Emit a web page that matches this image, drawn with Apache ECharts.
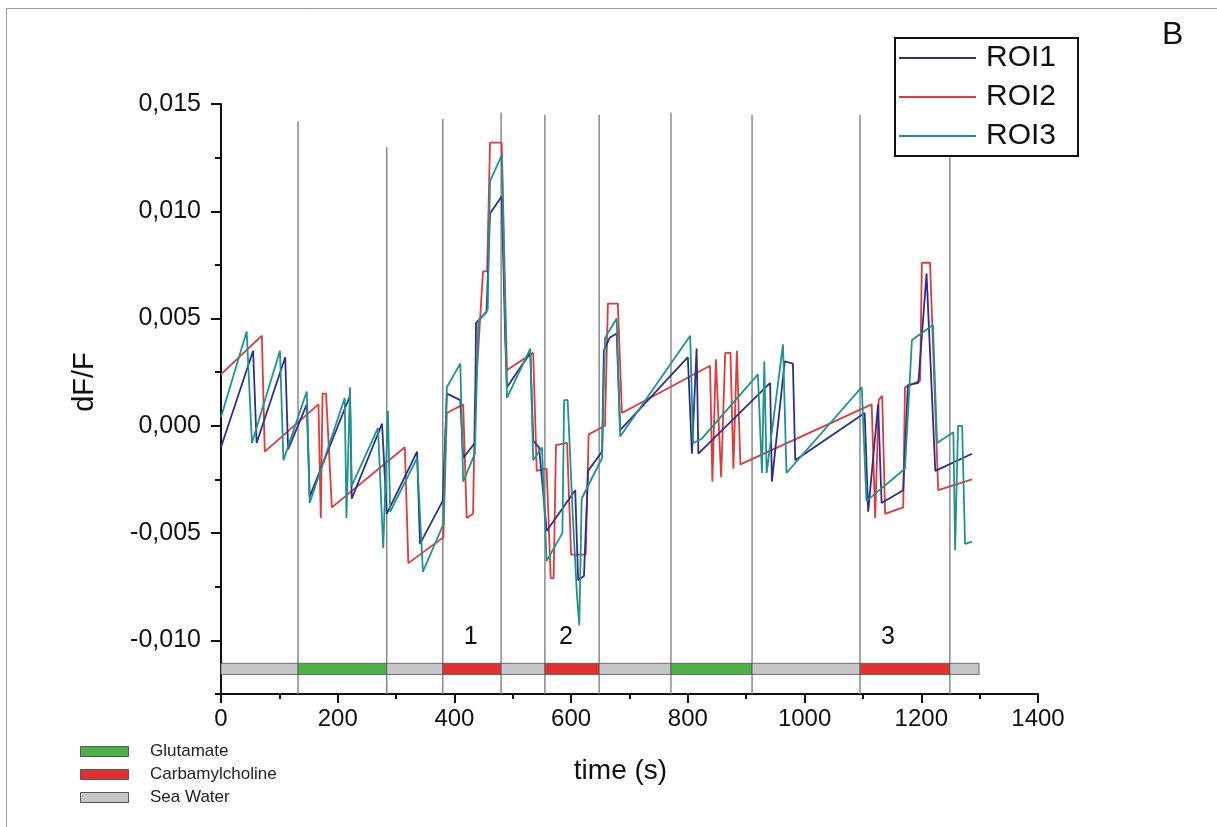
<!DOCTYPE html>
<html><head><meta charset="utf-8">
<script src="https://cdn.jsdelivr.net/npm/echarts@6/dist/echarts.min.js"></script>
<style>html,body{margin:0;padding:0;background:#fff}#c{width:1217px;height:827px}</style>
</head><body><div id="c"></div>
<script>
// ---- data ----
const roi1T = [0,55,61,110,115,147,152,221,224,276,284,336,341,380,387,410,415,435,437,455,461,481,487,490,530,535,545,558,607,612,622,629,653,656,666,678,684,800,807,815,818,941,944,966,980,984,1103,1109,1126,1132,1169,1177,1195,1209,1224,1287];
const roi1V = [-0.0010,0.0035,-0.0008,0.0032,-0.0011,0.0010,-0.0033,0.0014,-0.0034,0.0001,-0.0041,-0.0012,-0.0055,-0.0035,0.0015,0.0012,-0.0015,-0.0008,0.0048,0.0053,0.0099,0.0107,0.0041,0.0018,0.0034,-0.0007,-0.0010,-0.0049,-0.0030,-0.0072,-0.0070,-0.0021,-0.0012,0.0035,0.0041,0.0043,-0.0002,0.0032,-0.0013,0.0036,-0.0013,0.0020,-0.0026,0.0030,0.0029,-0.0016,0.0006,-0.0040,0.0010,-0.0036,-0.0030,0.0019,0.0020,0.0071,-0.0021,-0.0013];
const roi2T = [0,70,75,167,171,174,180,190,315,321,381,387,415,421,432,435,449,456,461,481,490,535,541,558,565,570,574,593,600,625,630,658,663,680,687,838,842,848,857,864,873,878,884,890,1115,1121,1127,1133,1138,1169,1172,1198,1201,1215,1229,1287];
const roi2V = [0.0024,0.0042,-0.0012,0.0010,-0.0043,0.0015,0.0015,-0.0038,-0.0010,-0.0064,-0.0052,0.0006,0.0010,-0.0043,-0.0041,0.0010,0.0072,0.0072,0.0132,0.0132,0.0026,0.0034,-0.0021,-0.0020,-0.0071,-0.0071,-0.0009,-0.0008,-0.0060,-0.0060,-0.0004,0.0000,0.0057,0.0057,0.0006,0.0028,-0.0026,0.0031,-0.0024,0.0034,0.0034,-0.0020,0.0035,-0.0018,0.0010,-0.0043,0.0012,0.0014,-0.0041,-0.0038,0.0018,0.0021,0.0076,0.0076,-0.0030,-0.0025];
const roi3T = [0,44,53,101,107,147,152,212,215,221,224,269,278,286,290,336,346,381,387,410,415,435,441,457,461,481,490,530,535,550,558,585,588,594,603,610,614,618,653,658,678,684,804,809,824,920,927,931,935,963,969,1098,1106,1172,1184,1220,1227,1255,1258,1263,1270,1275,1287];
const roi3V = [0.0004,0.0044,-0.0008,0.0035,-0.0016,0.0016,-0.0036,0.0013,-0.0043,0.0018,-0.0028,-0.0001,-0.0057,0.0007,-0.0040,-0.0015,-0.0068,-0.0046,0.0018,0.0029,-0.0026,-0.0013,0.0049,0.0054,0.0114,0.0126,0.0013,0.0036,-0.0016,-0.0010,-0.0063,-0.0050,0.0012,0.0012,-0.0043,-0.0079,-0.0093,-0.0034,-0.0015,0.0041,0.0050,-0.0005,0.0042,-0.0008,-0.0006,0.0024,-0.0022,0.0030,-0.0022,0.0038,-0.0022,0.0018,-0.0035,-0.0020,0.0040,0.0047,-0.0008,-0.0003,-0.0058,0.0000,0.0000,-0.0055,-0.0054];

const stimStart = [0,132,284,380,480,555,648,771,910,1095,1249];
const stimEnd   = [132,284,380,480,555,648,771,910,1095,1249,1299];
const stimType  = ['Sea Water','Glutamate','Sea Water','Carbamylcholine','Sea Water','Carbamylcholine','Sea Water','Glutamate','Sea Water','Carbamylcholine','Sea Water'];
const boundaryT   = [132,284,380,480,555,648,771,910,1095,1249];
const boundaryTop = [0.0142,0.0130,0.0143,0.0146,0.0145,0.0145,0.0146,0.0145,0.0145,0.0126];
const stimLabelT = [428,591,1143];
const stimLabelText = ['1','2','3'];
const drugNames = ['Glutamate','Carbamylcholine','Sea Water'];

const xTicks = [0,200,400,600,800,1000,1200,1400];
const yTicks = [-0.010,-0.005,0.000,0.005,0.010,0.015];
const yMinorTicks = [-0.0125,-0.0075,-0.0025,0.0025,0.0075,0.0125];

// ---- styles ----
const FONT = 'Liberation Sans, Arial, Helvetica, sans-serif';
const drugColor = {'Glutamate':'#4cb246','Carbamylcholine':'#e0312f','Sea Water':'#c5c6ca'};
const Y_MIN = -0.0125, Y_MAX = 0.015;
const BAR_TOP = -0.01107, BAR_BOT = -0.01159;
const LABEL_Y = -0.00986;

const pairs = (t, v) => t.map((x, i) => [x, v[i]]);

const chart = echarts.init(document.getElementById('c'), null, {renderer:'canvas'});

const option = {
  animation: false,
  backgroundColor: '#fff',
  textStyle: {fontFamily: FONT},
  grid: {left: 221, right: 179, top: 104, bottom: 133},
  legend: {
    orient: 'vertical', left: 895, top: 38,
    data: ['ROI1','ROI2','ROI3'],
    icon: 'rect', itemWidth: 77, itemHeight: 2, itemGap: 9,
    padding: [5, 22, 5, 4],
    borderColor: '#111', borderWidth: 2,
    textStyle: {fontSize: 30, color: '#111', fontFamily: FONT, padding: [0, 0, 0, 5]}
  },
  xAxis: {
    type: 'value', min: 0, max: 1400, interval: 200,
    axisLine: {show: true, onZero: false, lineStyle: {color: '#111', width: 2}},
    axisTick: {show: true, length: 9, lineStyle: {color: '#111', width: 2}},
    minorTick: {show: true, splitNumber: 2, length: 5, lineStyle: {color: '#111', width: 2}},
    splitLine: {show: false},
    axisLabel: {fontSize: 24, color: '#111', margin: 13, fontFamily: FONT,
      customValues: xTicks, formatter: v => String(v)},
    name: 'time (s)', nameLocation: 'middle', nameGap: 63,
    nameTextStyle: {fontSize: 28, color: '#111', fontFamily: FONT, padding: [0, 18, 0, 0]}
  },
  yAxis: [{
    type: 'value', min: Y_MIN, max: Y_MAX,
    axisLine: {show: true, onZero: false, lineStyle: {color: '#111', width: 2}},
    axisTick: {show: true, length: 10, lineStyle: {color: '#111', width: 2}, customValues: yTicks},
    splitLine: {show: false},
    axisLabel: {fontSize: 25, color: '#111', margin: 20, fontFamily: FONT, customValues: yTicks,
      formatter: v => (Math.abs(v) < 1e-9 ? 0 : v).toFixed(3).replace('.', ',')},
    name: 'dF/F', nameLocation: 'middle', nameGap: 122, nameRotate: 90,
    nameTextStyle: {fontSize: 29, color: '#111', fontFamily: FONT, padding: [0, 0, 0, 34]}
  }, {
    type: 'value', min: Y_MIN, max: Y_MAX, position: 'left',
    axisLine: {show: false},
    axisTick: {show: true, length: 6, lineStyle: {color: '#111', width: 2}, customValues: yMinorTicks},
    axisLabel: {show: false, customValues: yMinorTicks},
    splitLine: {show: false}
  }],
  series: [
    {
      name: 'boundaries', type: 'custom', silent: true, z: 1,
      data: boundaryT.map((t, i) => [t, boundaryTop[i]]),
      renderItem: (params, api) => {
        const p1 = api.coord([api.value(0), Y_MIN]);
        const p2 = api.coord([api.value(0), api.value(1)]);
        return {type: 'line', shape: {x1: p1[0], y1: p1[1], x2: p2[0], y2: p2[1]},
          style: {stroke: '#828282', lineWidth: 1.4}};
      }
    },
    {
      name: 'stimulus', type: 'custom', silent: true, z: 2,
      data: stimStart.map((s, i) => [s, stimEnd[i], i]),
      encode: {x: [0, 1]},
      renderItem: (params, api) => {
        const a = api.coord([api.value(0), BAR_TOP]);
        const b = api.coord([api.value(1), BAR_BOT]);
        const type = stimType[api.value(2)];
        return {type: 'rect', shape: {x: a[0], y: a[1], width: b[0] - a[0], height: b[1] - a[1]},
          style: {fill: drugColor[type], stroke: '#555', lineWidth: 0.8}};
      }
    },
    {
      name: 'labels', type: 'custom', silent: true, z: 3,
      data: stimLabelT.map((t, i) => [t, LABEL_Y, i]),
      renderItem: (params, api) => {
        const p = api.coord([api.value(0), api.value(1)]);
        return {type: 'text', x: p[0], y: p[1],
          style: {text: stimLabelText[api.value(2)], fontSize: 25, fill: '#111', fontFamily: FONT,
            align: 'center', verticalAlign: 'middle'}};
      }
    },
    {name: 'ROI1', type: 'line', data: pairs(roi1T, roi1V), showSymbol: false, z: 5,
      itemStyle: {color: '#2e2f8c'}, lineStyle: {color: '#2e2f8c', width: 1.8}},
    {name: 'ROI2', type: 'line', data: pairs(roi2T, roi2V), showSymbol: false, z: 4,
      itemStyle: {color: '#e03a3a'}, lineStyle: {color: '#e03a3a', width: 1.8}},
    {name: 'ROI3', type: 'line', data: pairs(roi3T, roi3V), showSymbol: false, z: 6,
      itemStyle: {color: '#1f938e'}, lineStyle: {color: '#1f938e', width: 1.8}}
  ],
  graphic: [
    {type: 'rect', shape: {x: 6.5, y: 8.5, width: 1240, height: 850},
      style: {fill: null, stroke: '#999', lineWidth: 1}, silent: true},
    {type: 'text', left: 1162, top: 19,
      style: {text: 'B', fontSize: 32, fill: '#111', fontFamily: FONT}},
    ...drugNames.flatMap((n, i) => [
      {type: 'rect', shape: {x: 80.5, y: 746.5 + i * 23, width: 48, height: 10},
        style: {fill: drugColor[n], stroke: '#555', lineWidth: 1}},
      {type: 'text', left: 150, top: 743 + i * 23,
        style: {text: n, fontSize: 17, fill: '#222', fontFamily: FONT}}
    ])
  ]
};
chart.setOption(option);
</script>
</body></html>
